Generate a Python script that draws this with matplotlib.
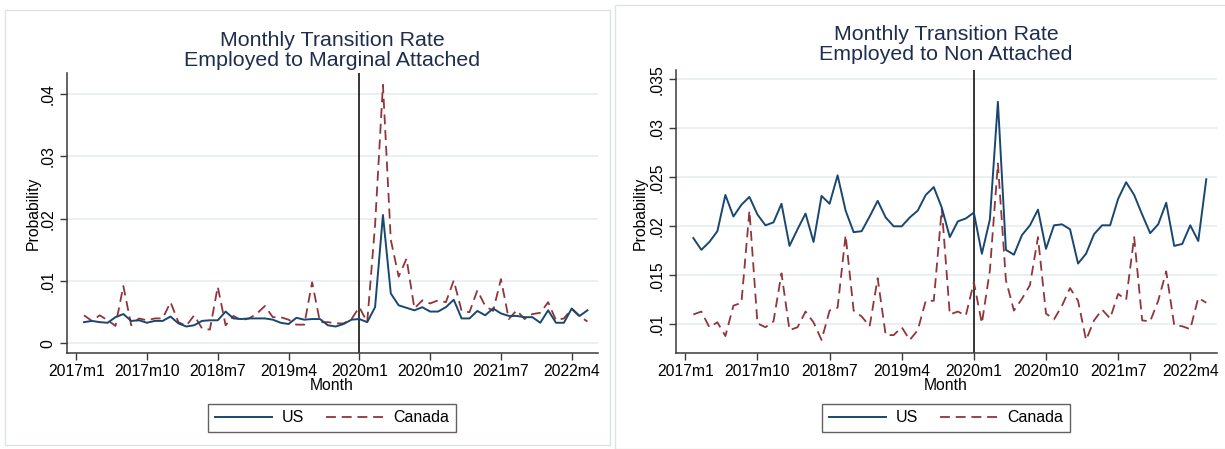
import matplotlib
matplotlib.use('Agg')
import matplotlib.pyplot as plt
from matplotlib.patches import Rectangle

plt.rcParams['font.family'] = ['Liberation Sans', 'DejaVu Sans']

# months counted from 2017m1; the series run 2017m2 .. 2022m6
months = list(range(1, 66))
tick_months = [0, 9, 18, 27, 36, 45, 54, 63]
tick_labels = ['2017m1', '2017m10', '2018m7', '2019m4',
               '2020m1', '2020m10', '2021m7', '2022m4']
covid_month = 36  # 2020m1

# employed -> marginally attached
us_marginal = [
    .0034, .0036, .0034, .0033, .0042, .0047, .0036, .0037, .0033, .0036,
    .0036, .0043, .0032, .0027, .0029, .0036, .0037, .0037, .0051, .0040,
    .0039, .0040, .0040, .0040, .0038, .0033, .0031, .0041, .0038, .0039,
    .0039, .0029, .0027, .0031, .0038, .0039, .0034, .0058, .0206, .0080,
    .0061, .0057, .0053, .0058, .0051, .0051, .0058, .0070, .0040, .0040,
    .0052, .0045, .0056, .0048, .0044, .0044, .0042, .0042, .0033, .0053,
    .0033, .0033, .0056, .0044, .0053]
canada_marginal = [
    .0045, .0036, .0045, .0037, .0028, .0092, .0029, .0040, .0037, .0040,
    .0040, .0066, .0034, .0028, .0045, .0024, .0022, .0091, .0029, .0044,
    .0037, .0040, .0048, .0060, .0042, .0042, .0038, .0030, .0030, .0098,
    .0034, .0034, .0032, .0032, .0039, .0058, .0034, .0190, .0415, .0166,
    .0107, .0136, .0056, .0069, .0064, .0069, .0066, .0101, .0052, .0050,
    .0085, .0060, .0052, .0103, .0039, .0053, .0039, .0047, .0049, .0066,
    .0037, .0040, .0055, .0043, .0035]

# employed -> non attached
us_nonattached = [
    .0188, .0176, .0184, .0195, .0232, .0210, .0222, .0230, .0212, .0201,
    .0204, .0223, .0180, .0197, .0213, .0184, .0231, .0223, .0252, .0216,
    .0194, .0195, .0210, .0226, .0209, .0200, .0200, .0209, .0216, .0232,
    .0240, .0219, .0189, .0205, .0208, .0214, .0172, .0207, .0327, .0176,
    .0171, .0191, .0201, .0217, .0177, .0201, .0202, .0197, .0162, .0172,
    .0192, .0201, .0201, .0228, .0245, .0232, .0212, .0193, .0202, .0224,
    .0180, .0182, .0201, .0185, .0248]
canada_nonattached = [
    .0110, .0113, .0097, .0102, .0088, .0119, .0122, .0216, .0101, .0097,
    .0103, .0152, .0094, .0097, .0113, .0102, .0084, .0114, .0117, .0191,
    .0114, .0108, .0098, .0147, .0089, .0089, .0097, .0084, .0094, .0124,
    .0124, .0218, .0110, .0113, .0109, .0143, .0101, .0155, .0264, .0145,
    .0114, .0126, .0140, .0189, .0111, .0105, .0119, .0137, .0124, .0084,
    .0104, .0115, .0106, .0131, .0125, .0189, .0104, .0103, .0124, .0154,
    .0099, .0098, .0095, .0127, .0122]

W, H = 1225, 449
NAVY = '#1a476f'
MAROON = '#90353b'
GRID = '#e6eef0'
AXIS = '#3a3a3a'
TITLE = '#1e2d4d'


# pixel box (left, top, right, bottom) -> figure fraction rect
def px_rect(left, top, right, bottom):
    return [left / W, 1 - bottom / H, (right - left) / W, (bottom - top) / H]


def draw_panel(fig, box, us, canada, title, ylim, yticks, ylabels,
               center_x, title_y, ylabel_x):
    ax = fig.add_axes(px_rect(*box))
    ax.set_xlim(-1.2, 66.3)
    ax.set_ylim(*ylim)
    for y in yticks:
        ax.axhline(y, color=GRID, lw=1.2, zorder=0)
    ax.axvline(covid_month, color='black', lw=1.1, zorder=1)
    ax.plot(months, us, color=NAVY, lw=1.4, label='US', zorder=3)
    ax.plot(months, canada, color=MAROON, lw=1.3, dashes=(5.5, 3.2),
            label='Canada', zorder=2)

    ax.set_xticks(tick_months)
    ax.set_xticklabels(tick_labels, fontsize=11.3)
    ax.set_yticks(yticks)
    ax.set_yticklabels(ylabels, fontsize=11.3, rotation=90, va='center')
    ax.tick_params(length=5, width=1, color=AXIS, pad=3)
    for side in ('top', 'right'):
        ax.spines[side].set_visible(False)
    for side in ('left', 'bottom'):
        ax.spines[side].set_color(AXIS)
        ax.spines[side].set_linewidth(1.1)

    fig.text(center_x / W, 1 - title_y / H, title[0], ha='center',
             va='center', fontsize=15.4, color=TITLE)
    fig.text(center_x / W, 1 - (title_y + 21) / H, title[1], ha='center',
             va='center', fontsize=15.4, color=TITLE)
    fig.text(ylabel_x / W, 1 - 213 / H, 'Probability', rotation=90,
             ha='center', va='center', fontsize=11.3)
    fig.text(center_x / W, 1 - 385 / H, 'Month', ha='center', va='center',
             fontsize=11.3)

    leg = ax.legend(loc='center', bbox_to_anchor=(center_x / W, 1 - 418 / H),
                    bbox_transform=fig.transFigure, ncol=2, fontsize=11.5,
                    frameon=True, fancybox=False, handlelength=3.6,
                    columnspacing=1.4, handletextpad=0.6,
                    borderpad=0.4)
    leg.get_frame().set_edgecolor(AXIS)
    leg.get_frame().set_linewidth(1.0)
    return ax


fig = plt.figure(figsize=(W / 100, H / 100), dpi=100)

# light frames round the two graph regions
fig.patches.append(Rectangle((5 / W, 1 - 445 / H), 605 / W, 435 / H,
                             transform=fig.transFigure, fill=False,
                             edgecolor='#dde3e3', lw=1))
fig.patches.append(Rectangle((615 / W, 1 - 449 / H), 612 / W, 444 / H,
                             transform=fig.transFigure, fill=False,
                             edgecolor='#dde3e3', lw=1))

draw_panel(fig, (66.7, 73, 597.7, 353.3), us_marginal, canada_marginal,
           ('Monthly Transition Rate', 'Employed to Marginal Attached'),
           (-0.0016, 0.0434), [0, .01, .02, .03, .04],
           ['0', '.01', '.02', '.03', '.04'],
           center_x=332, title_y=40, ylabel_x=33)

draw_panel(fig, (675.7, 70, 1216.7, 353.3), us_nonattached, canada_nonattached,
           ('Monthly Transition Rate', 'Employed to Non Attached'),
           (0.00704, 0.03595), [.01, .015, .02, .025, .03, .035],
           ['.01', '.015', '.02', '.025', '.03', '.035'],
           center_x=946, title_y=34, ylabel_x=640)

fig.savefig('out.png', dpi=100)
